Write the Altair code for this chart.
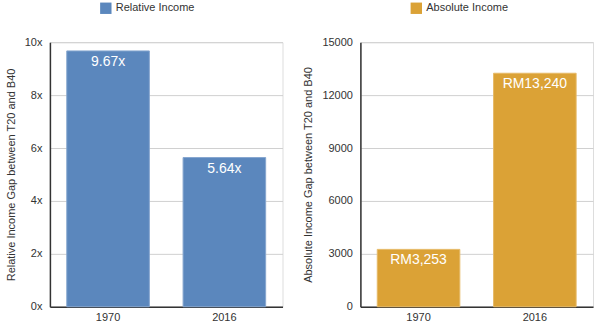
import altair as alt
import pandas as pd

years = ["1970", "2016"]
relative_values = [9.67, 5.64]
relative_labels = ["9.67x", "5.64x"]
absolute_values = [3253, 13240]
absolute_labels = ["RM3,253", "RM13,240"]

FONT = "Liberation Sans"
BLUE = "#5B87BD"
ORANGE = "#DBA236"

rel_df = pd.DataFrame({"year": years, "value": relative_values, "label": relative_labels,
                       "series": ["Relative Income"] * 2})
abs_df = pd.DataFrame({"year": years, "value": absolute_values, "label": absolute_labels,
                       "series": ["Absolute Income"] * 2})


def panel(df, color, stroke, ymax, tick_step, title, label_expr, legend_x):
    xenc = alt.X("year:N", title=None,
                 scale=alt.Scale(paddingInner=0.29, paddingOuter=0.145),
                 axis=alt.Axis(labelAngle=0, ticks=False, domainColor="#333333", domainWidth=1.5,
                               labelColor="#333333", labelFontSize=11, labelFont=FONT, labelPadding=5))
    yenc = alt.Y("value:Q", title=title,
                 scale=alt.Scale(domain=[0, ymax], nice=False),
                 axis=alt.Axis(values=list(range(0, ymax + 1, tick_step)), labelExpr=label_expr,
                               ticks=False, domainColor="#333333", domainWidth=1.5,
                               gridColor="#d0d0d0", labelColor="#333333", labelFontSize=11,
                               labelFont=FONT, labelPadding=8, titleFont=FONT, titleFontSize=11,
                               titleFontWeight="normal", titleColor="#333333", titlePadding=8))
    bars = alt.Chart(df).mark_bar(stroke=stroke, strokeWidth=1).encode(
        x=xenc, y=yenc,
        color=alt.Color("series:N", scale=alt.Scale(range=[color]),
                        legend=alt.Legend(title=None, orient="none", legendX=legend_x, legendY=-40,
                                          symbolType="square", symbolSize=130, symbolStrokeWidth=0,
                                          labelFont=FONT, labelFontSize=11, labelColor="#333333")))
    text = alt.Chart(df).mark_text(color="white", font=FONT, fontSize=14, baseline="top", dy=4).encode(
        x="year:N", y="value:Q", text="label:N")
    return alt.layer(bars, text).properties(width=233, height=265)


left = panel(rel_df, BLUE, "#86A6CF", 10, 2, "Relative Income Gap between T20 and B40",
             "datum.value + 'x'", 50)
right = panel(abs_df, ORANGE, "#E6BA66", 15000, 3000, "Absolute Income Gap between T20 and B40",
              "datum.value", 50)

chart = alt.hconcat(left, right, spacing=18).resolve_scale(color="independent").resolve_legend(
    color="independent").configure_view(stroke=None).configure(padding={"left": 4, "top": 1, "right": 0, "bottom": 0})

chart.save("out.html", embed_options={"renderer": "svg", "actions": False})
